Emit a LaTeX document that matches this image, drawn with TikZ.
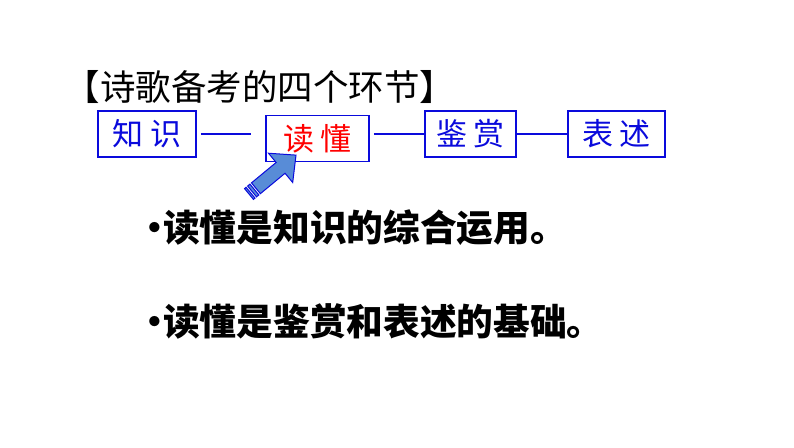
\documentclass[tikz,border=0pt]{standalone}
\usepackage{fontspec}
\setmainfont{Noto Sans CJK SC}
\definecolor{stageblue}{RGB}{10,10,220}
\definecolor{pointerfill}{RGB}{88,140,215}
\newcommand{\dotmark}{\makebox[17pt][c]{•}}
\begin{document}
\begin{tikzpicture}[x=1pt,y=1pt,
    stage/.style={draw=stageblue, line width=1.6pt, minimum height=46pt, inner sep=0pt,
      text=stageblue, font=\fontsize{31}{31}\selectfont},
    link/.style={draw=stageblue, line width=1.6pt},
    pointer/.style={fill=pointerfill, draw=stageblue, line width=1pt},
    point/.style={anchor=west, inner sep=0pt, font=\fontsize{36.7}{36.7}\selectfont\bfseries}]
  \useasboundingbox (0,0) rectangle (794,447);
  % title
  \node[inner sep=0pt, font=\fontsize{35.5}{35.5}\selectfont] (title) at (260,359.5) {【诗歌备考的四个环节】};
  % the four stages
  \node[stage, minimum width=98pt] (zhishi) at (147,313) {知 识};
  \node[stage, minimum width=103pt, text=red] (dudong) at (317.5,308.5) {读 懂};
  \node[stage, minimum width=91pt] (jianshang) at (470.5,313) {鉴 赏};
  \node[stage, minimum width=97pt] (biaoshu) at (616.5,313) {表 述};
  \draw[link, shorten <=4pt, shorten >=14pt] (zhishi.east) -- (zhishi.east -| dudong.west);
  \draw[link, shorten <=4pt] (jianshang.west -| dudong.east) -- (jianshang.west);
  \draw[link] (jianshang) -- (biaoshu);
  % striped arrow
  \coordinate (tail) at (249,253);
  \begin{scope}[shift={(tail)}, rotate=39.6]
    \filldraw[pointer] (0,-7) rectangle (2,7);
    \filldraw[pointer] (4,-7) rectangle (7,7);
    \filldraw[pointer] (9,-7) -- (41,-7) -- (41,-19) -- (61,0) -- (41,19) -- (41,7) -- (9,7) -- cycle;
  \end{scope}
  % the two points
  \node[point] (first) at (146,219.5) {\dotmark 读懂是知识的综合运用。};
  \node[point] (second) at (146,125.5) {\dotmark 读懂是鉴赏和表述的基础。};
\end{tikzpicture}
\end{document}
